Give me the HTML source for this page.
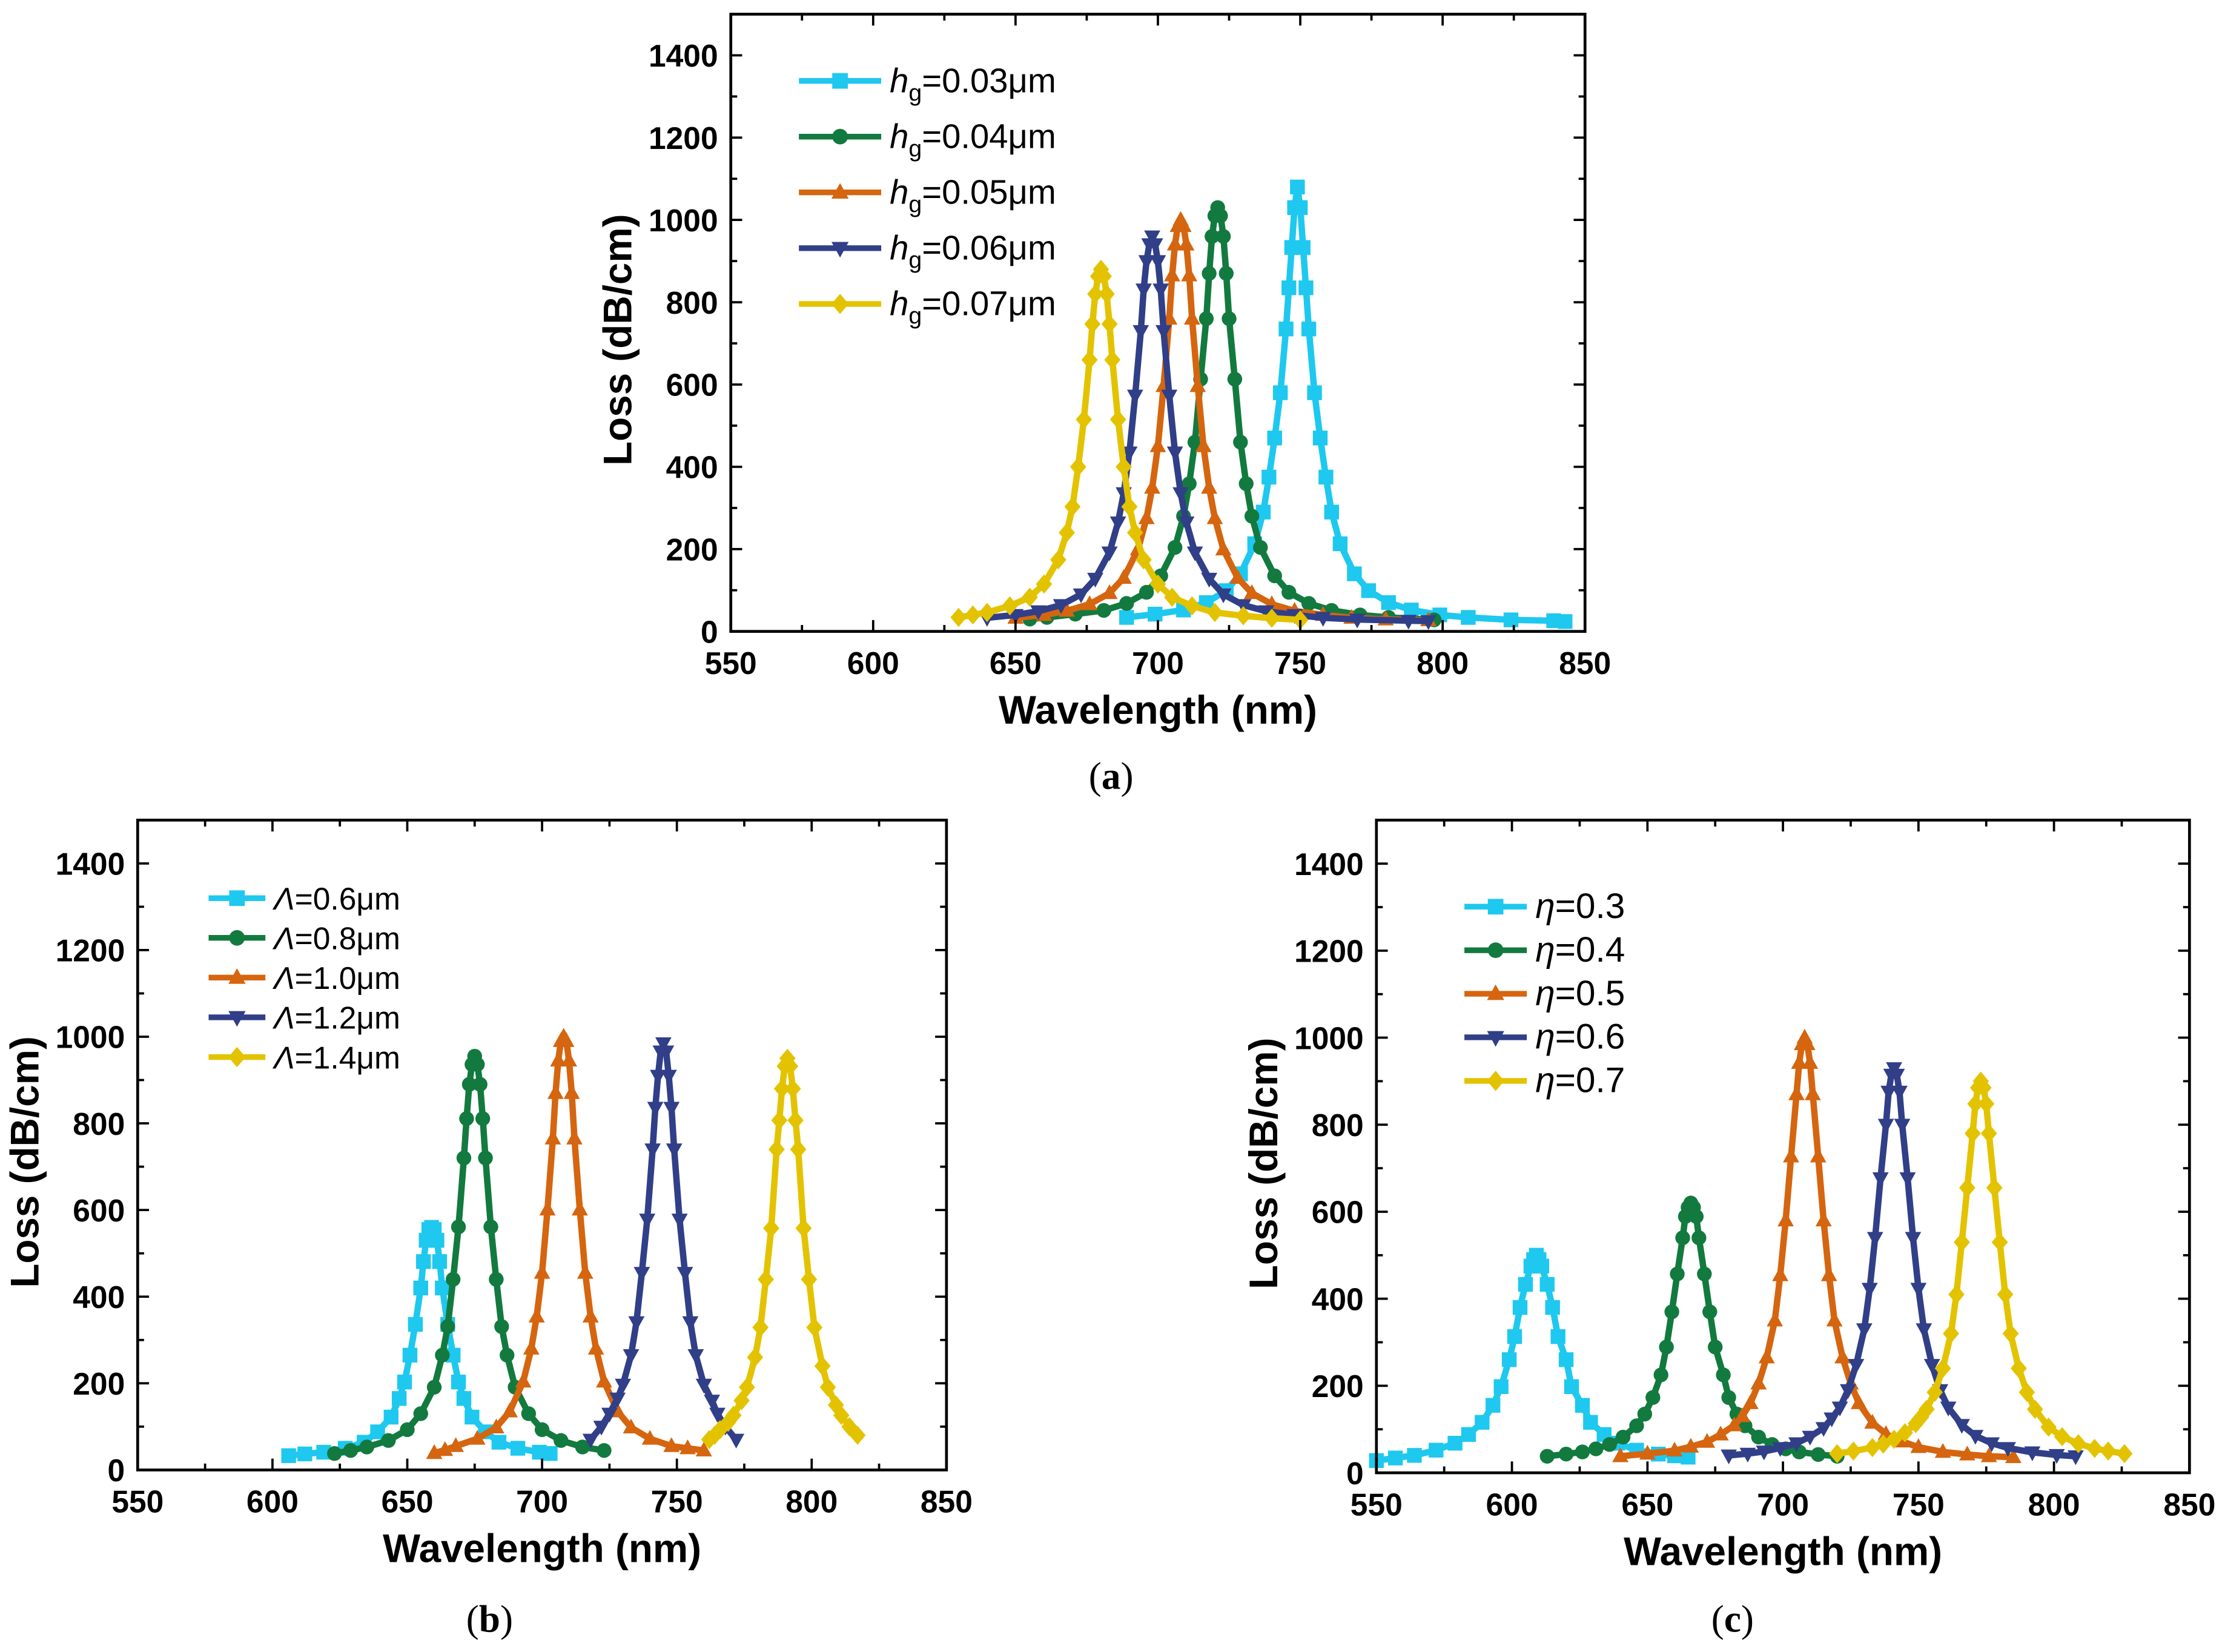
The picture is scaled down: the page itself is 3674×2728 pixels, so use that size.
<!DOCTYPE html>
<html><head><meta charset="utf-8"><style>
html,body{margin:0;padding:0;background:#fff;}
svg{display:block;}
text{font-family:"Liberation Sans",Arial,sans-serif;}
</style></head><body>
<svg id="fig" width="3674" height="2728" viewBox="0 0 1568 1164.3" xmlns="http://www.w3.org/2000/svg">
<rect width="1568" height="1164.3" fill="#fff"/>
</svg>
<script>
const colors=["#1ec8ef","#127a3e","#d5650f","#303f88","#e3c300"];
const markers=["square","circle","triangle","tridown","diamond"];
// Panel a
const aLabels=["0.03","0.04","0.05","0.06","0.07"];
const aX0=[689,699,709,717,724,729,734,737,739,741,743,745,746,747,748,749,750,751,752,753,755,757,759,761,764,769,774,781,789,799,809,824,839,843];
const aY0=[34,42,52,70,99,140,213,290,375,470,580,735,835,933,1030,1080,1030,933,835,735,580,470,375,290,213,140,99,70,52,40,34,28,26,24];
const aX1=[655,661,671,681,689,696,701,706,709,711,713,715,717,718,719,720,721,722,723,724,725,727,729,731,733,736,741,746,753,761,771,781,797];
const aY1=[30,34,42,51,68,95,135,204,280,359,460,613,760,870,960,1010,1030,1010,960,870,760,613,460,359,280,204,135,95,68,51,40,34,28];
const aX2=[650,660,668,676,683,688,693,696,698,700,702,704,705,706,707,708,709,710,711,712,714,716,718,720,723,728,733,740,748,758,768,780,795];
const aY2=[33,40,50,66,93,130,199,275,349,450,596,760,865,940,985,1000,985,940,865,760,596,450,349,275,199,130,93,66,50,40,33,29,27];
const aX3=[640,650,658,666,673,678,683,686,688,690,692,694,695,696,697,698,699,700,701,702,704,706,708,710,713,718,723,730,738,748,758,770,788,795];
const aY3=[33,40,49,64,90,128,192,265,336,435,573,730,831,900,941,960,941,900,831,730,573,435,336,265,192,128,90,64,49,40,33,29,26,25];
const aX4=[630,635,640,648,655,660,665,668,670,672,674,676,677,678,679,680,681,682,683,684,686,688,690,692,695,700,705,712,720,730,740,750];
const aY4=[34,40,46,62,83,115,174,240,303,400,515,660,747,820,863,880,863,820,747,660,515,400,303,240,174,115,83,62,46,38,32,28];
// Panel b
const bLabels=["0.6","0.8","1.0","1.2","1.4"];
const bX0=[606,612,619,627,634,639,644,647,649,651,653,655,656,657,658,659,660,661,662,663,665,667,669,671,674,679,684,691,699,703];
const bY0=[33,37,41,50,64,88,122,165,203,265,336,420,481,530,555,560,555,530,481,420,336,265,203,165,122,88,64,50,41,38];
const bX1=[623,629,635,643,650,655,660,663,665,667,669,671,672,673,674,675,676,677,678,679,681,683,685,687,690,695,700,707,715,723];
const bY1=[38,45,53,68,93,130,191,265,331,440,561,720,811,890,936,955,936,890,811,720,561,440,331,265,191,130,93,68,53,45];
const bX2=[660,664,668,676,683,688,693,696,698,700,702,704,705,706,707,708,709,710,711,712,714,716,718,720,723,728,733,740,748,754,760];
const bY2=[39,46,55,72,98,135,204,280,354,455,601,765,870,945,990,1000,990,945,870,765,601,455,354,280,204,135,98,72,55,50,45];
const bX3=[718,722,725,728,730,733,735,737,739,741,742,743,744,745,746,747,748,749,751,753,755,757,760,763,765,768,772];
const bY3=[70,100,130,165,197,265,341,455,578,740,836,910,966,985,966,910,836,740,578,455,341,265,197,160,130,100,70];
const bX4=[762,764,766,769,771,774,776,779,781,783,785,787,788,789,790,791,792,793,794,795,797,799,801,804,806,809,811,814,817];
const bY4=[70,80,93,110,126,160,191,260,329,440,558,740,807,880,932,950,932,880,807,740,558,440,329,240,191,150,126,100,80];
// Panel c
const cLabels=["0.3","0.4","0.5","0.6","0.7"];
const cX0=[550,557,564,572,579,584,589,593,596,599,601,603,605,607,608,609,610,611,613,615,617,620,622,626,629,634,639,646,654,660,665];
const cY0=[28,34,40,52,68,88,116,155,198,260,313,380,433,475,490,500,490,475,433,380,313,260,198,155,116,88,68,52,43,39,36];
const cX1=[613,620,626,631,636,641,646,649,652,655,657,659,661,663,664,665,666,667,668,669,671,673,675,678,680,683,686,691,696,701,706,713,720];
const cY1=[38,43,48,55,65,82,108,135,173,225,289,370,457,540,589,610,620,610,589,540,457,370,289,225,173,135,108,82,65,55,48,42,38];
const cX2=[640,650,660,666,672,677,682,685,688,691,694,697,699,701,703,705,706,707,708,709,710,711,713,715,717,719,722,725,728,733,738,744,750,759,768,776,785];
const cY2=[38,44,51,60,71,88,109,130,160,205,265,350,454,580,727,870,942,985,1000,985,942,870,727,580,454,350,265,205,160,115,89,72,59,48,42,38,36];
const cX3=[680,687,693,699,705,710,715,718,721,724,727,730,732,734,736,738,739,740,741,742,743,744,746,748,750,752,755,758,761,766,771,777,783,792,801,808];
const cY3=[40,44,49,57,68,83,103,125,150,190,248,330,423,540,677,800,876,915,930,915,876,800,677,540,423,330,248,190,150,110,85,68,57,47,41,38];
const cX4=[720,726,733,737,741,745,749,751,753,756,759,762,764,766,768,770,771,772,773,774,775,776,778,780,782,784,787,790,793,798,803,809,815,820,826];
const cY4=[44,50,58,66,77,92,113,128,146,185,240,320,410,530,655,780,848,885,900,885,848,780,655,530,410,320,240,185,146,105,83,67,56,50,44];
const xTicks=[550,600,650,700,750,800,850];
const yTicks=[0,200,400,600,800,1000,1200,1400];

const svg=document.getElementById('fig');
const NS="http://www.w3.org/2000/svg";
function mk(tag,attrs,parent){const e=document.createElementNS(NS,tag);for(const k in attrs)e.setAttribute(k,attrs[k]);(parent||svg).appendChild(e);return e;}
function marker(g,type,x,y,s,col){
  let e;
  if(type==="square"){e=mk('rect',{x:x-s,y:y-s,width:2*s,height:2*s,fill:col},g);}
  else if(type==="circle"){e=mk('circle',{cx:x,cy:y,r:s,fill:col},g);}
  else if(type==="triangle"){e=mk('polygon',{points:`${x},${y-s*1.2} ${x-s*1.1},${y+s*0.8} ${x+s*1.1},${y+s*0.8}`,fill:col},g);}
  else if(type==="tridown"){e=mk('polygon',{points:`${x},${y+s*1.2} ${x-s*1.1},${y-s*0.8} ${x+s*1.1},${y-s*0.8}`,fill:col},g);}
  else {e=mk('polygon',{points:`${x},${y-s*1.3} ${x+s*1.1},${y} ${x},${y+s*1.3} ${x-s*1.1},${y}`,fill:col},g);}
  
  
}
function panel(p){
  const {L,R,T,B,id}=p;
  const sx=v=>L+(v-550)/300*(R-L);
  const sy=v=>B-v/1500*(B-T);
  const g=mk('g',{});
  
  
  p.xs.forEach((xs,i)=>{
    const ys=p.ys[i];
    const sg=mk('g',{},g);
    
    
    const pts=xs.map((x,j)=>sx(x)+','+sy(ys[j])).join(' ');
    const pl=mk('polyline',{points:pts,fill:'none',stroke:colors[i],'stroke-width':4.5,'stroke-linejoin':'round'},sg);
    
    
    xs.forEach((x,j)=>marker(sg,markers[i],sx(x),sy(ys[j]),5.2,colors[i]));
  });
  const fr=mk('rect',{x:L,y:T,width:R-L,height:B-T,fill:'none',stroke:'#000','stroke-width':2},g);
  
  
  for(let v=550;v<=850;v+=25){
    const x=sx(v),len=(v%50===0)?8:4.5;
    mk('line',{x1:x,y1:B,x2:x,y2:B-len,stroke:'#000','stroke-width':1.6},g);
    mk('line',{x1:x,y1:T,x2:x,y2:T+len,stroke:'#000','stroke-width':1.6},g);
  }
  for(let v=0;v<=1500;v+=100){
    const y=sy(v),len=(v%200===0)?8:4.5;
    mk('line',{x1:L,y1:y,x2:L+len,y2:y,stroke:'#000','stroke-width':1.6},g);
    mk('line',{x1:R,y1:y,x2:R-len,y2:y,stroke:'#000','stroke-width':1.6},g);
  }
  xTicks.forEach(v=>{const t=mk('text',{x:sx(v),y:B+30,'text-anchor':'middle','font-size':22,'font-weight':'bold'},g);t.textContent=v;
    });
  yTicks.forEach(v=>{const t=mk('text',{x:L-9,y:sy(v)+8,'text-anchor':'end','font-size':22,'font-weight':'bold'},g);t.textContent=v;
    });
  const xt=mk('text',{x:(L+R)/2,y:B+65,'text-anchor':'middle','font-size':28,'font-weight':'bold'},g);xt.textContent='Wavelength (nm)';
  
  const ytx=L-70,yty=(T+B)/2+12;
  const yt=mk('text',{x:ytx,y:yty,'text-anchor':'middle','font-size':28,'font-weight':'bold',transform:`rotate(-90 ${ytx} ${yty})`},g);yt.textContent='Loss (dB/cm)';
  
  const lg=mk('g',{},g);
  
  
  p.labels.forEach((lab,i)=>{
    const y=p.legY+i*p.legDy;
    const eg=mk('g',{},lg);
    
    
    mk('line',{x1:p.legX,y1:y,x2:p.legX+p.legW,y2:y,stroke:colors[i],'stroke-width':4},eg);
    marker(eg,markers[i],p.legX+p.legW/2,y,5.5,colors[i]);
    const t=mk('text',{x:p.legX+p.legW+6,y:y+8,'font-size':p.fs},eg);
    if(p.kind==='h'){t.innerHTML=`<tspan font-style="italic">h</tspan><tspan font-size="${p.fs*0.7}" dy="6">g</tspan><tspan dy="-6">=${lab}μm</tspan>`;}
    else if(p.kind==='L'){t.innerHTML=`<tspan font-style="italic">Λ</tspan>=${lab}μm`;}
    else {t.innerHTML=`<tspan font-style="italic">η</tspan>=${lab}`;}
  });
  const cap=mk('text',{x:p.capX,y:p.capY,'text-anchor':'middle','font-size':27,style:'font-family:"Liberation Serif",serif'},g);
  cap.innerHTML=`(<tspan font-weight="bold">${id}</tspan>)`;
  
}
panel({id:'a',L:515,R:1117,T:10,B:445,xs:[aX0,aX1,aX2,aX3,aX4],ys:[aY0,aY1,aY2,aY3,aY4],labels:aLabels,kind:'h',legX:563,legY:57,legDy:39.3,legW:58,fs:24,capX:783,capY:556});
panel({id:'b',L:97,R:667,T:578,B:1036,xs:[bX0,bX1,bX2,bX3,bX4],ys:[bY0,bY1,bY2,bY3,bY4],labels:bLabels,kind:'L',legX:147,legY:633,legDy:28,legW:40,fs:22,capX:345,capY:1150});
panel({id:'c',L:970,R:1543,T:578,B:1038,xs:[cX0,cX1,cX2,cX3,cX4],ys:[cY0,cY1,cY2,cY3,cY4],labels:cLabels,kind:'e',legX:1032,legY:639,legDy:30.7,legW:44,fs:25,capX:1221,capY:1150});
</script>
</body></html>
